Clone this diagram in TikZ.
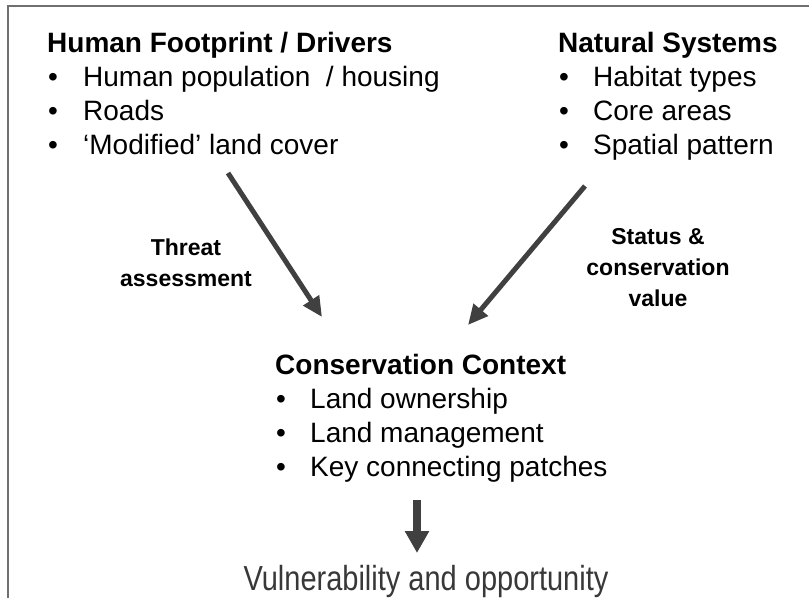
\documentclass[tikz,border=0pt]{standalone}
\usepackage{graphicx}
\usepackage{fontspec}
\setmainfont{Liberation Sans}
\usetikzlibrary{arrows.meta}
\definecolor{arrowgray}{HTML}{404040}
\definecolor{framegray}{HTML}{707070}
\definecolor{textgray}{HTML}{383838}
\begin{document}
\begin{tikzpicture}[x=1pt,y=-1pt,
  headtext/.style={font=\fontsize{28}{34}\selectfont\bfseries, anchor=base west, inner sep=0pt},
  itemtext/.style={font=\fontsize{28}{34}\selectfont, anchor=base west, inner sep=0pt},
  lbl/.style={font=\fontsize{23}{31}\selectfont\bfseries, align=center, inner sep=0pt},
  bigarrow/.style={draw=arrowgray, line width=5pt, -{Triangle[length=20pt,width=18pt]}},
  downarrow/.style={draw=arrowgray, line width=8pt, -{Triangle[length=22pt,width=23pt]}}]
\useasboundingbox (0,0) rectangle (809,598);
\draw[framegray, line width=1.2pt] (8,598) -- (8,6) -- (809,6);

% Human footprint block
\node[headtext] (hf) at (47,52) {Human Footprint / Drivers};
\node[itemtext] (hfd1) at (48,86) {•};
\node[itemtext] (hf1) at (83,86) {Human population\ \ / housing};
\node[itemtext] (hfd2) at (48,120) {•};
\node[itemtext] (hf2) at (83,120) {Roads};
\node[itemtext] (hfd3) at (48,154) {•};
\node[itemtext] (hf3) at (83,154) {‘Modified’ land cover};

% Natural systems block
\node[headtext] (ns) at (558,52) {Natural Systems};
\node[itemtext] (nsd1) at (559,86) {•};
\node[itemtext] (ns1) at (593,86) {Habitat types};
\node[itemtext] (nsd2) at (559,120) {•};
\node[itemtext] (ns2) at (593,120) {Core areas};
\node[itemtext] (nsd3) at (559,154) {•};
\node[itemtext] (ns3) at (593,154) {Spatial pattern};

% Conservation context block
\node[headtext] (cc) at (275,374) {Conservation Context};
\node[itemtext] (ccd1) at (276,408) {•};
\node[itemtext] (cc1) at (310,408) {Land ownership};
\node[itemtext] (ccd2) at (276,442) {•};
\node[itemtext] (cc2) at (310,442) {Land management};
\node[itemtext] (ccd3) at (276,476) {•};
\node[itemtext] (cc3) at (310,476) {Key connecting patches};

% labels
\node[lbl] (threat) at (186,263) {Threat\\assessment};
\node[lbl] (status) at (658,268) {Status \&\\conservation\\value};

% bottom text
\node[font=\fontsize{29}{34}\selectfont, text=textgray, anchor=base, inner sep=0pt] (vo) at (426,590) {\scalebox{1}[1.2]{Vulnerability and opportunity}};

% arrows
\coordinate (a1s) at (228,173);
\coordinate (a1e) at (322,317);
\coordinate (a2s) at (585,186);
\coordinate (a2e) at (468,325);
\coordinate (a3s) at (417,500);
\coordinate (a3e) at (417,553);
\draw[bigarrow] (a1s) -- (a1e);
\draw[bigarrow] (a2s) -- (a2e);
\draw[downarrow] (a3s) -- (a3e);
\end{tikzpicture}
\end{document}
